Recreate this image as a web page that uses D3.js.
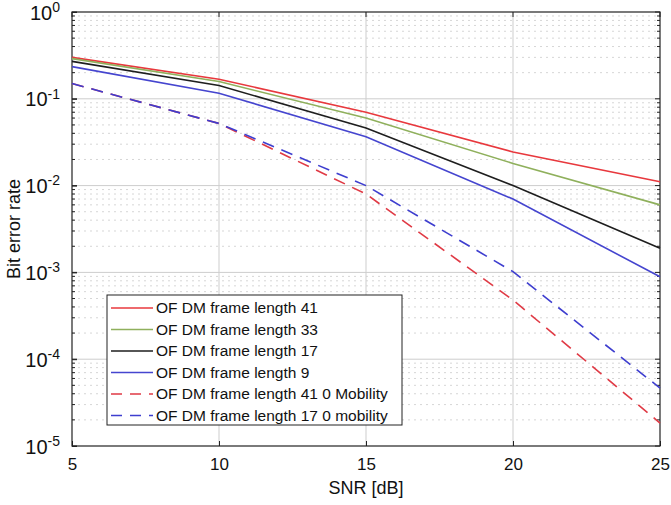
<!DOCTYPE html>
<html lang="en">
<head>
<meta charset="UTF-8"/>
<script src="https://d3js.org/d3.v7.min.js"></script>
<style>
  body { margin: 0; background: #fff; font-family: 'Liberation Sans', Arial, sans-serif; }
  svg { display: block; }
  .tick text { font-size: 17px; fill: #111; }
  .label { font-size: 18px; fill: #111; }
  .legend text { font-size: 15.5px; fill: #111; }
</style>
</head>
<body>
<svg width="671" height="505"></svg>
<script>
// SNR in dB
const snr = [5, 10, 15, 20, 25];

const ber41 = [0.30, 0.168, 0.070, 0.0244, 0.0111];
const ber33 = [0.29, 0.158, 0.060, 0.018, 0.0060];
const ber17 = [0.27, 0.142, 0.046, 0.0100, 0.0019];
const ber9 = [0.235, 0.116, 0.0366, 0.0070, 0.00089];
const ber41NoMob = [0.15, 0.052, 0.0080, 0.00048, 0.0000184];
const ber17NoMob = [0.15, 0.052, 0.0100, 0.00102, 0.0000465];

const seriesNames = [
  'OF DM frame length 41',
  'OF DM frame length 33',
  'OF DM frame length 17',
  'OF DM frame length 9',
  'OF DM frame length 41 0 Mobility',
  'OF DM frame length 17 0 mobility'
];
const xTicks = [5, 10, 15, 20, 25];
const yTicks = [1e-5, 1e-4, 1e-3, 1e-2, 1e-1, 1];

const series = [
  { name: seriesNames[0], values: ber41, color: '#e8383d', dash: null },
  { name: seriesNames[1], values: ber33, color: '#8fb05c', dash: null },
  { name: seriesNames[2], values: ber17, color: '#1e1e1e', dash: null },
  { name: seriesNames[3], values: ber9, color: '#4545cf', dash: null },
  { name: seriesNames[4], values: ber41NoMob, color: '#e03a45', dash: '12 8' },
  { name: seriesNames[5], values: ber17NoMob, color: '#3e3ecf', dash: '12 8' }
];

const svg = d3.select('svg');
const pLeft = 72, pRight = 660, pTop = 12, pBottom = 446;

const x = d3.scaleLinear().domain([5, 25]).range([pLeft, pRight]);
const y = d3.scaleLog().domain([1e-5, 1]).range([pBottom, pTop]);

// minor values 2..9 per decade
const minor = [];
for (let e = -5; e < 0; e++) {
  for (let m = 2; m <= 9; m++) minor.push(m * Math.pow(10, e));
}

const grid = svg.append('g');
grid.selectAll('.minor').data(minor).enter().append('line')
  .attr('x1', pLeft).attr('x2', pRight)
  .attr('y1', d => y(d)).attr('y2', d => y(d))
  .attr('stroke', '#d6d6d6').attr('stroke-width', 1)
  .attr('stroke-dasharray', '2 4');
grid.selectAll('.majY').data(yTicks.slice(1, -1)).enter().append('line')
  .attr('x1', pLeft).attr('x2', pRight)
  .attr('y1', d => y(d)).attr('y2', d => y(d))
  .attr('stroke', '#cdcdcd').attr('stroke-width', 1);
grid.selectAll('.majX').data(xTicks.slice(1, -1)).enter().append('line')
  .attr('y1', pTop).attr('y2', pBottom)
  .attr('x1', d => x(d)).attr('x2', d => x(d))
  .attr('stroke', '#cdcdcd').attr('stroke-width', 1);

// axes
svg.append('g')
  .attr('transform', `translate(0,${pBottom})`)
  .call(d3.axisBottom(x).tickValues(xTicks).tickSize(-5).tickPadding(12).tickFormat(d3.format('d')))
  .call(g => g.select('.domain').remove())
  .call(g => g.selectAll('.tick line').attr('stroke', '#222'));

svg.append('g')
  .attr('transform', `translate(${pLeft},0)`)
  .call(d3.axisLeft(y).tickValues(yTicks).tickSize(-5).tickPadding(10).tickFormat(''))
  .call(g => g.select('.domain').remove())
  .call(g => g.selectAll('.tick line').attr('stroke', '#222'))
  .call(g => g.selectAll('.tick').each(function (d) {
    const e = Math.round(Math.log10(d));
    const t = d3.select(this).append('text')
      .attr('x', -12).attr('dy', '0.35em').attr('text-anchor', 'end')
      .style('font-size', '20px').attr('fill', '#111');
    t.append('tspan').text('10');
    t.append('tspan').attr('dy', '-0.55em').style('font-size', '14px').text(String(e));
  }));

// minor ticks left and right
const ticks = svg.append('g');
[pLeft, pRight].forEach(px => {
  const dir = px === pLeft ? 1 : -1;
  ticks.selectAll(null).data(minor).enter().append('line')
    .attr('x1', px).attr('x2', px + dir * 3)
    .attr('y1', d => y(d)).attr('y2', d => y(d))
    .attr('stroke', '#222');
  ticks.selectAll(null).data(yTicks).enter().append('line')
    .attr('x1', px).attr('x2', px + dir * 5)
    .attr('y1', d => y(d)).attr('y2', d => y(d))
    .attr('stroke', '#222');
});
ticks.selectAll(null).data(xTicks).enter().append('line')
  .attr('x1', d => x(d)).attr('x2', d => x(d))
  .attr('y1', pTop).attr('y2', pTop + 5)
  .attr('stroke', '#222');

// frame
svg.append('rect')
  .attr('x', pLeft).attr('y', pTop)
  .attr('width', pRight - pLeft).attr('height', pBottom - pTop)
  .attr('fill', 'none').attr('stroke', '#222').attr('stroke-width', 1.2);

// lines
const line = d3.line()
  .x((d, i) => x(snr[i]))
  .y(d => y(d));

svg.append('g').selectAll('path').data(series).enter().append('path')
  .attr('d', s => line(s.values))
  .attr('fill', 'none')
  .attr('stroke', s => s.color)
  .attr('stroke-width', 1.6)
  .attr('stroke-dasharray', s => s.dash);

// legend
const lg = svg.append('g').attr('class', 'legend');
lg.append('rect')
  .attr('x', 107).attr('y', 295).attr('width', 295).attr('height', 130)
  .attr('fill', '#fff').attr('stroke', '#222').attr('stroke-width', 1);
series.forEach((s, i) => {
  const yy = 308 + i * 21.5;
  lg.append('line')
    .attr('x1', 111).attr('x2', 153).attr('y1', yy).attr('y2', yy)
    .attr('stroke', s.color).attr('stroke-width', 1.6)
    .attr('stroke-dasharray', s.dash ? '11 8' : null);
  lg.append('text')
    .attr('x', 156).attr('y', yy).attr('dy', '0.35em')
    .text(s.name);
});

// axis labels
svg.append('text').attr('class', 'label')
  .attr('x', x(15)).attr('y', 494)
  .attr('text-anchor', 'middle')
  .text('SNR [dB]');

svg.append('text').attr('class', 'label')
  .attr('transform', `translate(20,${(pTop + pBottom) / 2}) rotate(-90)`)
  .attr('text-anchor', 'middle')
  .text('Bit error rate');
</script>
</body>
</html>
